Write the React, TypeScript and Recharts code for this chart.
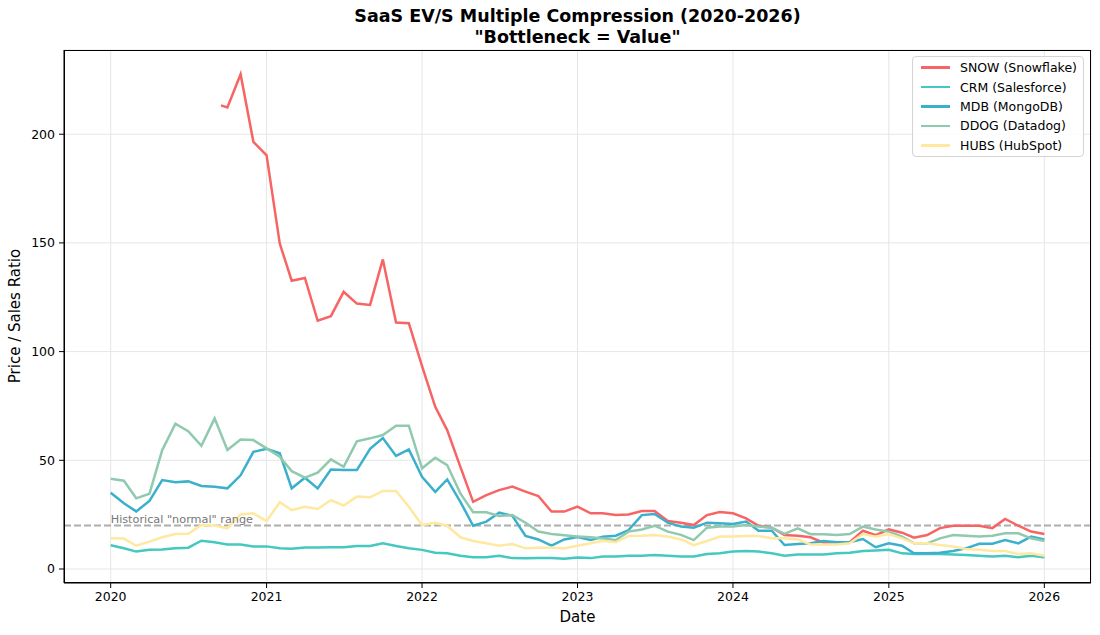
import React from 'react';
import { LineChart, Line, XAxis, YAxis, CartesianGrid, ReferenceLine, ReferenceDot } from 'recharts';

// monthly EV/S multiples, Jan 2020 .. Jan 2026 (month start)
const FIRST_YEAR = 2020;
const MONTH_COUNT = 73;
const YEAR_TICKS = [2020, 2021, 2022, 2023, 2024, 2025, 2026];
const Y_TICKS = [0, 50, 100, 150, 200];

// Snowflake IPO point, then monthly from Oct 2020
const SNOW_IPO = { date: '2020-09-16', value: 213.3 };
const SNOW_FIRST_MONTH = 9;
const SNOW = [
  212.3, 227.6, 196.5, 190.3, 149.7, 132.6, 133.9, 114.2, 116.3, 127.5,
  122.1, 121.5, 142.4, 113.4, 113.1, 93.3, 74.6, 63.9, 47, 30.9,
  34, 36.3, 37.9, 35.6, 33.6, 26.4, 26.4, 28.7, 25.6, 25.6,
  24.8, 25.1, 26.7, 26.7, 22.1, 21.3, 20.2, 24.8, 26.2, 25.6,
  23.3, 19.9, 19, 15.6, 15.3, 14.6, 12.1, 12.3, 12.3, 17.6,
  15.6, 18.2, 16.7, 14.4, 15.6, 18.8, 19.9, 19.9, 19.9, 18.8,
  23, 19.9, 17.2, 16.1,
];

const CRM = [
  10.9, 9.5, 8, 8.8, 9, 9.5, 9.8, 13, 12.3, 11.3,
  11.3, 10.4, 10.4, 9.5, 9.3, 9.9, 9.9, 10, 10, 10.6,
  10.6, 11.8, 10.6, 9.5, 8.8, 7.5, 7.2, 6.1, 5.4, 5.4,
  6.1, 5.0, 4.9, 5.0, 5.0, 4.7, 5.3, 5.0, 5.7, 5.7,
  6.1, 6.1, 6.4, 6.1, 5.7, 5.7, 6.9, 7.2, 8, 8.3,
  8, 7.2, 6.1, 6.7, 6.7, 6.7, 7.2, 7.5, 8.3, 8.5,
  8.8, 7.2, 6.9, 6.9, 6.9, 6.7, 6.4, 6.1, 5.7, 6.1,
  5.4, 6.1, 5.4,
];

const MDB = [
  35.1, 30.2, 26.5, 31.3, 40.9, 39.9, 40.3, 38.2, 37.8, 37.1,
  43.1, 53.9, 55.3, 53.2, 37.1, 42, 37.1, 45.8, 45.5, 45.5,
  55.3, 60.2, 52, 55, 42.4, 35.5, 41.2, 30.9, 19.9, 21.8,
  25.9, 24.5, 15.2, 13.6, 10.7, 13.6, 14.7, 13.3, 14.8, 15.3,
  17.9, 24.8, 25.3, 21.3, 19.5, 19, 21.3, 21, 20.7, 21.8,
  17.6, 17.6, 11, 11.5, 11.8, 12.9, 12.3, 12.3, 13.8, 10,
  11.8, 10.7, 7.2, 7.2, 7.5, 8.3, 9.5, 11.6, 11.6, 13.3,
  11.8, 14.9, 13.6,
];

const DDOG = [
  41.5, 40.6, 32.5, 34.6, 54.7, 66.8, 63.4, 56.7, 69.3, 54.7,
  59.6, 59.3, 55.5, 51.6, 45, 42, 44.3, 50.4, 47, 58.7,
  60.1, 61.6, 65.9, 65.9, 46.3, 51.2, 47.8, 34.8, 26.1, 26.1,
  24.4, 24.8, 21.3, 17.2, 16.1, 15.5, 15, 14.6, 14, 13.3,
  17.2, 18.2, 19.9, 17.2, 15.7, 13.3, 19, 19.5, 19.5, 20.2,
  19.5, 19, 16.1, 18.7, 16, 16, 15.6, 16.1, 19.5, 18.2,
  17.2, 14.9, 11.8, 11.8, 14.1, 15.6, 15.3, 14.9, 15.3, 16.4,
  16.4, 14.1, 12.9,
];

const HUBS = [
  14.1, 14, 10.7, 12.6, 14.6, 16.1, 16.2, 20.2, 20, 18.7,
  25.1, 25.6, 22, 30.7, 27.1, 28.6, 27.6, 31.7, 29.2, 33.3,
  33, 35.9, 35.9, 28.6, 20.2, 21.3, 19.9, 14.6, 12.9, 11.8,
  10.7, 11.5, 9.5, 9.8, 9.8, 9.5, 10.7, 11.8, 13, 12.3,
  15.2, 15.3, 15.6, 14.9, 13.6, 11, 12.9, 14.9, 14.9, 15.2,
  15.2, 14.1, 14.1, 13.6, 11.3, 11.3, 11.3, 11.8, 16.1, 14.9,
  16.1, 14.1, 11.8, 11.8, 11, 10.3, 9.2, 8.8, 8.3, 8.3,
  6.9, 7.2, 6.1,
];

const NORMAL_LEVEL = 20;

const SERIES = [
  { key: 'SNOW', name: 'SNOW (Snowflake)', color: '#F86464' },
  { key: 'CRM', name: 'CRM (Salesforce)', color: '#45C8BF' },
  { key: 'MDB', name: 'MDB (MongoDB)', color: '#3BB0CC' },
  { key: 'DDOG', name: 'DDOG (Datadog)', color: '#90CAAE' },
  { key: 'HUBS', name: 'HUBS (HubSpot)', color: '#FFE8A0' },
];

const monthTime = (i: number) => Date.UTC(FIRST_YEAR + Math.floor(i / 12), i % 12, 1);

const rows: any[] = [];
for (let i = 0; i < MONTH_COUNT; i++) {
  rows.push({
    t: monthTime(i),
    CRM: CRM[i],
    MDB: MDB[i],
    DDOG: DDOG[i],
    HUBS: HUBS[i],
    SNOW: i >= SNOW_FIRST_MONTH ? SNOW[i - SNOW_FIRST_MONTH] : null,
  });
}
rows.push({ t: Date.parse(SNOW_IPO.date), SNOW: SNOW_IPO.value });
rows.sort((a, b) => a.t - b.t);

// matplotlib-like 5% margins
const t0 = monthTime(0);
const t1 = monthTime(MONTH_COUNT - 1);
const xPad = (t1 - t0) * 0.05;
const allVals = [...SNOW, SNOW_IPO.value, ...CRM, ...MDB, ...DDOG, ...HUBS];
const vMin = Math.min(...allVals);
const vMax = Math.max(...allVals);
const yPad = (vMax - vMin) * 0.05;

const FONT = '"DejaVu Sans", sans-serif';
const tickStyle = { fill: '#000', fontSize: 12.5, fontFamily: FONT };

export default function App() {
  return (
    <div style={{ position: 'absolute', left: 0, top: 0, width: 1100, height: 635, background: '#fff', fontFamily: FONT }}>
      <div
        style={{
          position: 'absolute',
          left: 65,
          width: 1025,
          top: 6,
          textAlign: 'center',
          fontWeight: 'bold',
          fontSize: 17.5,
          lineHeight: '21px',
          color: '#000',
        }}
      >
        <div>SaaS EV/S Multiple Compression (2020-2026)</div>
        <div>"Bottleneck = Value"</div>
      </div>

      <LineChart width={1100} height={635} data={rows} margin={{ top: 50, right: 9, bottom: 22, left: 6 }}>
        <CartesianGrid stroke="#e6e6e6" strokeWidth={1} />
        <XAxis
          dataKey="t"
          type="number"
          domain={[t0 - xPad, t1 + xPad]}
          allowDataOverflow
          ticks={YEAR_TICKS.map((y) => Date.UTC(y, 0, 1))}
          tickFormatter={(t: number) => String(new Date(t).getUTCFullYear())}
          stroke="#000"
          tickSize={5}
          tickMargin={4}
          height={30}
          tick={tickStyle}
        />
        <YAxis
          type="number"
          domain={[vMin - yPad, vMax + yPad]}
          allowDataOverflow
          ticks={Y_TICKS}
          stroke="#000"
          tickSize={5}
          tickMargin={4}
          width={58}
          tick={tickStyle}
        />
        <ReferenceLine y={NORMAL_LEVEL} stroke="#999" strokeOpacity={0.8} strokeWidth={1.8} strokeDasharray="7 3" />
        <ReferenceDot
          x={t0}
          y={NORMAL_LEVEL}
          r={0}
          shape={(p: any) => (
            <text x={p.cx} y={p.cy - 3} fill="#777" fontSize={11.25} fontFamily={FONT}>
              Historical "normal" range
            </text>
          )}
        />
        {SERIES.map((s) => (
          <Line
            key={s.key}
            type="linear"
            dataKey={s.key}
            stroke={s.color}
            strokeWidth={2.5}
            dot={false}
            activeDot={false}
            connectNulls
            isAnimationActive={false}
          />
        ))}
      </LineChart>

      {/* plot frame */}
      <div
        style={{
          position: 'absolute',
          left: 64,
          top: 50,
          width: 1027,
          height: 533,
          border: '1px solid #000',
          boxSizing: 'border-box',
          pointerEvents: 'none',
        }}
      />

      {/* legend */}
      <div
        style={{
          position: 'absolute',
          left: 912,
          top: 56,
          width: 172,
          height: 101,
          boxSizing: 'border-box',
          border: '1px solid #d4d4d4',
          borderRadius: 4,
          background: 'rgba(255,255,255,0.8)',
          paddingTop: 1,
        }}
      >
        {SERIES.map((s) => (
          <div key={s.key} style={{ display: 'flex', alignItems: 'center', height: 19.4 }}>
            <div style={{ marginLeft: 8, width: 29, height: 2.5, background: s.color }} />
            <div style={{ marginLeft: 10, fontSize: 12.5, color: '#000', whiteSpace: 'nowrap' }}>{s.name}</div>
          </div>
        ))}
      </div>

      <div
        style={{
          position: 'absolute',
          left: 15,
          top: 316,
          transform: 'translate(-50%, -50%) rotate(-90deg)',
          whiteSpace: 'nowrap',
          fontSize: 15,
          lineHeight: '15px',
          color: '#000',
        }}
      >
        Price / Sales Ratio
      </div>
      <div
        style={{
          position: 'absolute',
          left: 65,
          width: 1025,
          top: 610,
          textAlign: 'center',
          fontSize: 15,
          lineHeight: '15px',
          color: '#000',
        }}
      >
        Date
      </div>
    </div>
  );
}
